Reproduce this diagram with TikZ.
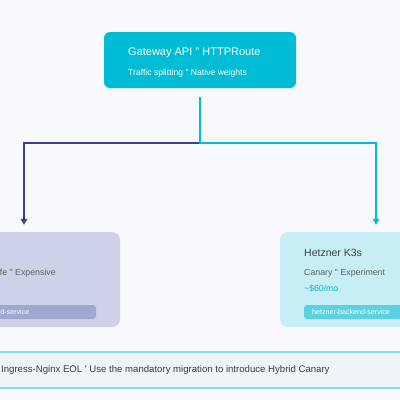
\documentclass[tikz,border=0pt]{standalone}
\usepackage{fontspec}
\setmainfont{Liberation Sans}
\usetikzlibrary{arrows.meta}
\usetikzlibrary{positioning}

\definecolor{pagebg}{HTML}{F8F9FC}
\definecolor{gwcyan}{HTML}{00BCD4}
\definecolor{stableline}{HTML}{373E96}
\definecolor{stablecard}{HTML}{CED2E8}
\definecolor{stabletag}{HTML}{A0A8D2}
\definecolor{canarycard}{HTML}{C6EEF4}
\definecolor{canarytag}{HTML}{5CD1E1}
\definecolor{cardtitle}{HTML}{424242}
\definecolor{cardtext}{HTML}{616161}
\definecolor{notefill}{HTML}{EEF4F7}
\definecolor{noteline}{HTML}{84DEEA}
\definecolor{notetext}{HTML}{3C3C3C}

\tikzset{
  card/.style={rectangle,rounded corners=8pt,minimum width=192pt,minimum height=95pt,inner sep=0pt},
  tagbox/.style={rectangle,rounded corners=3pt,minimum width=144pt,minimum height=14pt,inner sep=0pt},
  txt/.style={inner sep=0pt,anchor=west},
  branch/.style={line width=2pt,-{Triangle[width=6.5pt,length=6pt]}},
}

\begin{document}
\begin{tikzpicture}[x=1pt,y=-1pt]
\useasboundingbox (0,0) rectangle (400,400);
\clip (0,0) rectangle (400,400);
\fill[pagebg] (0,0) rectangle (400,400);

% gateway box
\node[rectangle,rounded corners=6pt,fill=gwcyan,minimum width=192pt,minimum height=56pt] (gateway) at (200,60) {};
\node[txt,text=white,font=\fontsize{11}{13}\selectfont] (gwtitle) at (128,53) {Gateway API \textquotedbl{} HTTPRoute};
\node[txt,text=white,font=\fontsize{8.6}{10}\selectfont] (gwsub) at (128,73) {Traffic splitting \textquotedbl{} Native weights};

% cards
\node[card,fill=stablecard] (lcard) at (24,279.5) {};
\node[card,fill=canarycard] (rcard) at (376,279.5) {};

\node[txt,anchor=east,text=cardtext,font=\fontsize{8.8}{10}\selectfont] (lsub) at (56,273) {fe \textquotedbl{} Expensive};
\node[tagbox,fill=stabletag] (ltag) at (24,312) {};
\node[txt,anchor=east,text=white,font=\fontsize{7.1}{8}\selectfont] (ltagtext) at (29.5,312) {d-service};

\node[txt,text=cardtitle,font=\fontsize{10.5}{12}\selectfont] (rtitle) at (304,253) {Hetzner K3s};
\node[txt,text=cardtext,font=\fontsize{8.8}{10}\selectfont] (rsub) at (304,273) {Canary \textquotedbl{} Experiment};
\node[txt,text=gwcyan,font=\fontsize{8.7}{10}\selectfont] (rprice) at (304,289) {\char`~\$60/mo};
\node[tagbox,fill=canarytag] (rtag) at (376,312) {};
\node[txt,text=white,font=\fontsize{7.1}{8}\selectfont] (rtagtext) at (312,312) {hetzner-backend-service};

% connectors
\coordinate (split) at (200,143);
\draw[branch,stableline] (split) -| ([yshift=7pt]lcard.north);
\draw[branch,gwcyan] ([yshift=-9pt]gateway.south) -- (split) -| ([yshift=7pt]rcard.north);

% note banner
\fill[notefill] (-10,352) rectangle (410,388);
\draw[noteline,line width=1.5pt] (-10,352) -- (410,352);
\draw[noteline,line width=1.5pt] (-10,388) -- (410,388);
\node[txt,text=notetext,font=\fontsize{9.6}{11}\selectfont] (note) at (1,370) {Ingress-Nginx EOL \textquotesingle{} Use the mandatory migration to introduce Hybrid Canary};

\end{tikzpicture}
\end{document}
